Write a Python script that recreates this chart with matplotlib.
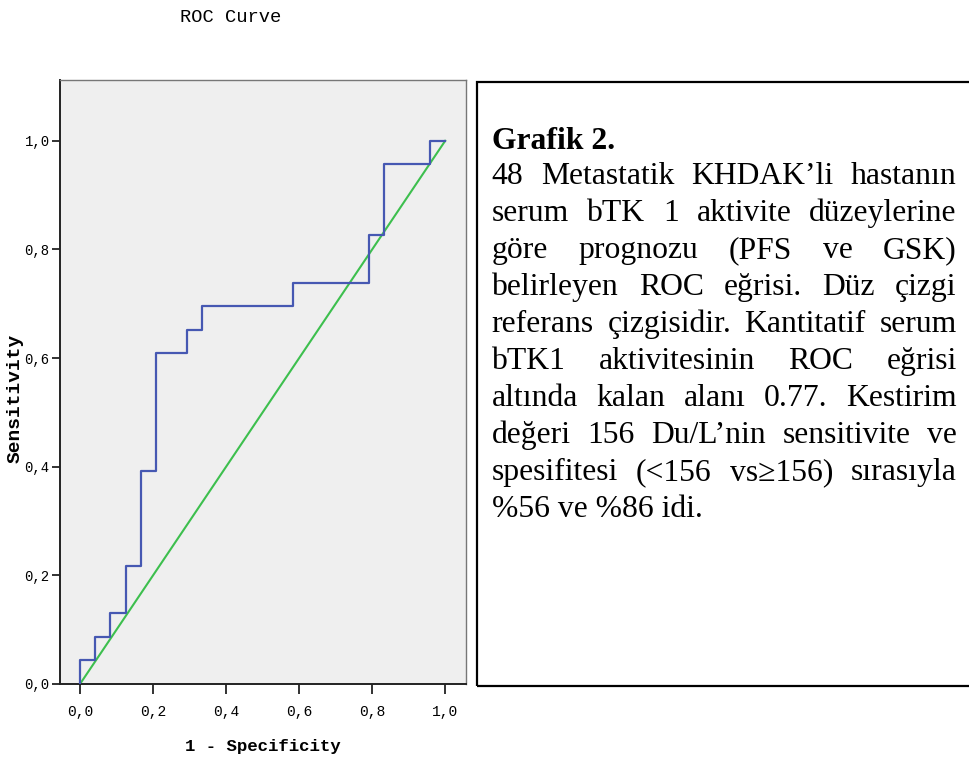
import matplotlib
matplotlib.use("Agg")
import matplotlib.pyplot as plt
from matplotlib.patches import Rectangle

# ROC coordinates (1 - specificity, sensitivity) at each cut-off, drawn as steps
fpr = [0.0, 0.0417, 0.0833, 0.125, 0.1667, 0.2083, 0.2917, 0.3333,
       0.5833, 0.7917, 0.8333, 0.9583, 1.0]
tpr = [0.0, 0.0435, 0.0870, 0.1304, 0.2174, 0.3913, 0.6087, 0.6522,
       0.6957, 0.7391, 0.8261, 0.9565, 1.0]
ref_line = [0.0, 1.0]

tick_vals = [0.0, 0.2, 0.4, 0.6, 0.8, 1.0]
tick_labels = ["0,0", "0,2", "0,4", "0,6", "0,8", "1,0"]

caption_title = "Grafik 2."
caption_lines = [
    "48 Metastatik KHDAK’li hastanın",
    "serum bTK 1 aktivite düzeylerine",
    "göre prognozu (PFS ve GSK)",
    "belirleyen ROC eğrisi. Düz çizgi",
    "referans çizgisidir. Kantitatif serum",
    "bTK1 aktivitesinin ROC eğrisi",
    "altında kalan alanı 0.77. Kestirim",
    "değeri 156 Du/L’nin sensitivite ve",
    "spesifitesi (<156 vs≥156) sırasıyla",
    "%56 ve %86 idi.",
]

W, H = 969, 764
DPI = 100
MONO = ["Liberation Mono", "DejaVu Sans Mono"]
SERIF = ["Liberation Serif", "DejaVu Serif"]

fig = plt.figure(figsize=(W / DPI, H / DPI), dpi=DPI)
fig.patch.set_facecolor("white")


def fx(x):
    return x / W


def fy(y):
    return 1 - y / H


# plot area in pixel terms
left, right, top, bottom = 60, 466, 80, 684
ax = fig.add_axes([fx(left), fy(bottom), (right - left) / W, (bottom - top) / H])
ax.set_facecolor("#efefef")

ax.plot(ref_line, ref_line, color="#3dbf4e", lw=1.5, zorder=2)
ax.plot(fpr, tpr, drawstyle="steps-pre", color="#4658b2", lw=1.6, zorder=3)

ax.set_xlim(-0.0548, 1.057)
ax.set_ylim(0.0, 1.112)
ax.set_xticks(tick_vals)
ax.set_xticklabels(tick_labels, fontfamily=MONO, fontsize=10.5)
ax.set_yticks(tick_vals)
ax.set_yticklabels(tick_labels, fontfamily=MONO, fontsize=10)
ax.tick_params(axis="x", direction="out", length=7, width=1.3, color="#222222", pad=8)
ax.tick_params(axis="y", direction="out", length=6, width=1.3, color="#222222", pad=1.5)

for side in ("left", "bottom"):
    ax.spines[side].set_color("#222222")
    ax.spines[side].set_linewidth(1.4)
for side in ("top", "right"):
    ax.spines[side].set_color("#777777")
    ax.spines[side].set_linewidth(1.0)

ax.set_xlabel("1 - Specificity", fontfamily=MONO, fontsize=12.5,
              fontweight="bold", va="center")
ax.xaxis.set_label_coords(0.5, (bottom - 747) / (bottom - top))
ax.set_ylabel("Sensitivity", fontfamily=MONO, fontsize=14,
              fontweight="bold", va="center", ha="center")
ax.yaxis.set_label_coords((15 - left) / (right - left), (bottom - 398) / (bottom - top))

fig.text(fx(231), fy(17), "ROC Curve", fontfamily=MONO, fontsize=13.5,
         ha="center", va="center")

# caption box
box = Rectangle((fx(477), fy(686)), fx(980) - fx(477), fy(82) - fy(686),
                transform=fig.transFigure, fill=False, ec="black", lw=1.6)
fig.patches.append(box)

text_left, text_right = 491.7, 956.7
fsize = 22.8
fig.text(fx(text_left), fy(149), caption_title, fontfamily=SERIF,
         fontsize=fsize, fontweight="bold", ha="left", va="baseline")

fig.canvas.draw()
renderer = fig.canvas.get_renderer()
first_base, line_gap = 184, 37.0
for i, line in enumerate(caption_lines):
    base = first_base + i * line_gap
    if i == len(caption_lines) - 1:
        fig.text(fx(text_left), fy(base), line, fontfamily=SERIF,
                 fontsize=fsize, ha="left", va="baseline")
        continue
    words = line.split(" ")
    items = [fig.text(0, fy(base), w, fontfamily=SERIF, fontsize=fsize,
                      ha="left", va="baseline") for w in words]
    widths = [t.get_window_extent(renderer).width for t in items]
    gap = (text_right - text_left - sum(widths)) / (len(words) - 1)
    x = text_left
    for t, w in zip(items, widths):
        t.set_x(fx(x))
        x += w + gap

fig.savefig("out.png", dpi=DPI)
